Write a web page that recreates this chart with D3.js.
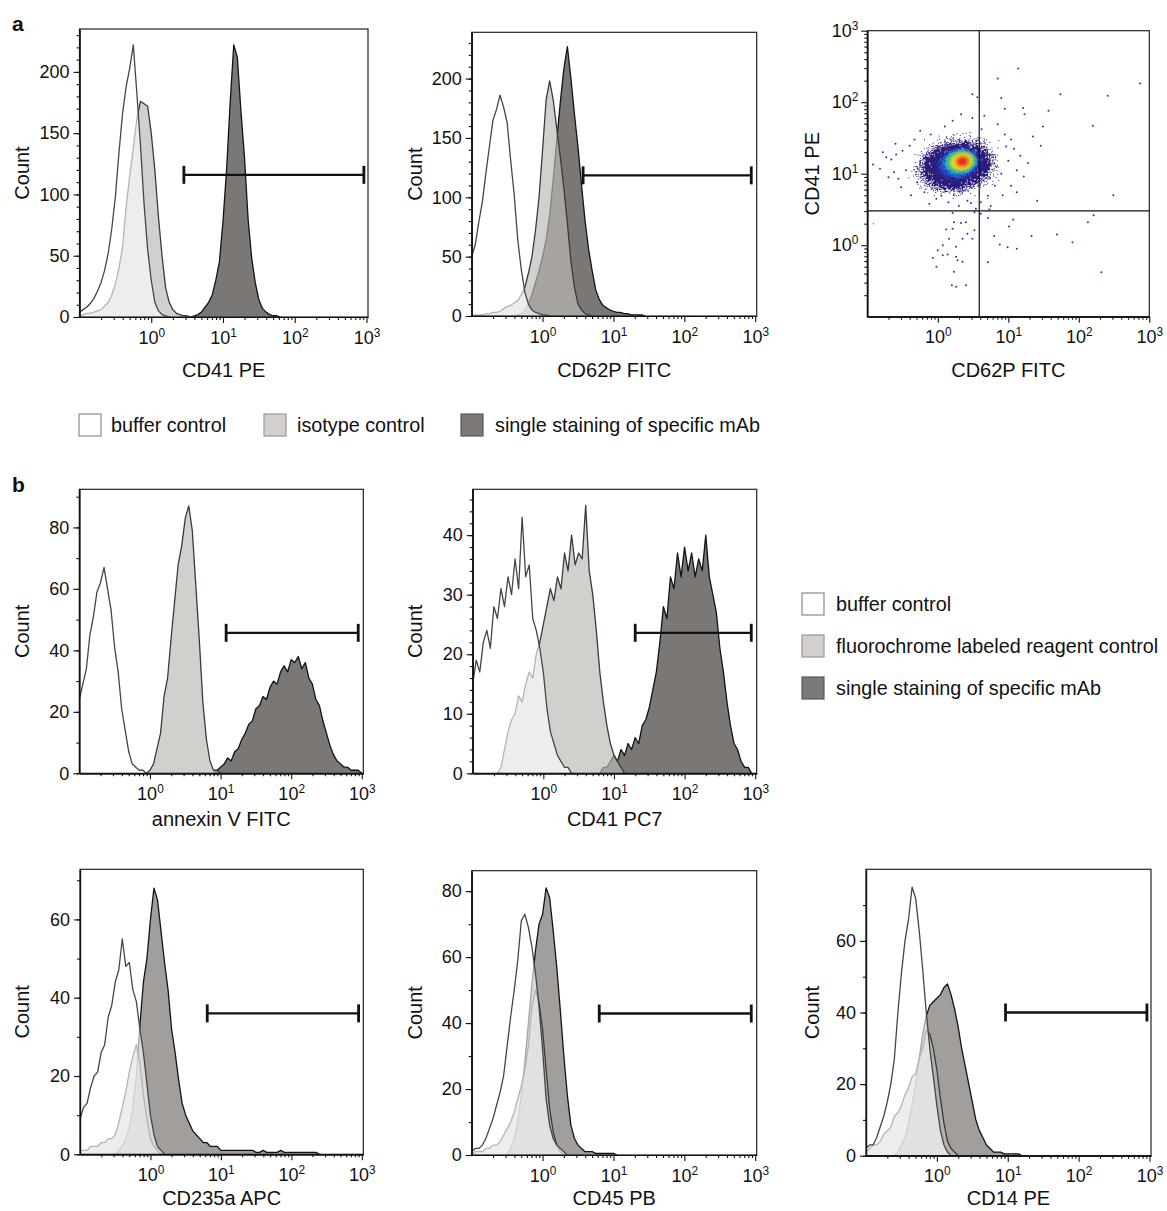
<!DOCTYPE html>
<html>
<head>
<meta charset="utf-8">
<script src="https://cdnjs.cloudflare.com/ajax/libs/d3/7.8.5/d3.min.js"></script>
<style>
  body { margin: 0; background: #fff; }
  svg { display: block; font-family: "Liberation Sans", Arial, sans-serif; }
</style>
</head>
<body>
<svg id="fig" width="1167" height="1211"></svg>
<script>
// histogram channels are 0.05 decades wide; `from` is log10 of the first channel
const BIN = 0.05;

// a: CD41 PE
const cd41peBuffer = {from: -1, counts: [4, 6, 8, 11, 15, 21, 28, 38, 52, 72, 98, 134, 166, 188, 203, 222, 182, 140, 92, 55, 30, 12, 5, 2, 1, 0]};
const cd41peIsotype = {from: -1, counts: [1, 2, 3, 3, 4, 5, 6, 9, 12, 18, 27, 40, 57, 90, 115, 138, 162, 176, 174, 172, 150, 120, 82, 50, 24, 12, 6, 3, 2, 1, 1, 0]};
const cd41peSpecific = {from: 0.55, counts: [0, 1, 2, 4, 8, 12, 18, 30, 45, 78, 120, 175, 222, 212, 168, 130, 80, 48, 28, 14, 7, 4, 2, 1, 1, 0]};
const cd41peGate = [2.85, 920, 116];

// a: CD62P FITC
const cd62pBuffer = {from: -1, counts: [50, 60, 79, 96, 120, 143, 165, 174, 186, 176, 163, 131, 102, 64, 39, 20, 10, 5, 3, 2, 1, 1, 0]};
const cd62pIsotype = {from: -1, counts: [0, 1, 1, 1, 2, 2, 3, 3, 4, 6, 8, 9, 11, 13, 18, 24, 36, 50, 72, 100, 140, 182, 198, 182, 158, 134, 108, 78, 46, 24, 10, 5, 2, 1, 0]};
const cd62pSpecific = {from: -0.4, counts: [0, 1, 2, 5, 10, 18, 28, 38, 50, 64, 85, 115, 148, 180, 208, 227, 200, 170, 142, 110, 80, 56, 38, 22, 14, 9, 7, 5, 4, 3, 3, 2, 2, 1, 1, 1, 1, 0]};
const cd62pGate = [3.73, 880, 118.5];

// a: CD62P FITC vs CD41 PE dot plot, density shells (log10 centre / half-widths in decades)
const cloudColors = ['#2b1c7d', '#2b46c6', '#23a5d8', '#4cc46a', '#ede12b', '#f59a22', '#e3271f'];
const cloudCentreX = [0.26, 0.30, 0.32, 0.33, 0.34, 0.35, 0.35];
const cloudCentreY = [1.11, 1.14, 1.16, 1.17, 1.17, 1.17, 1.17];
const cloudHalfX = [0.55, 0.30, 0.24, 0.20, 0.16, 0.12, 0.07];
const cloudHalfY = [0.34, 0.20, 0.17, 0.145, 0.12, 0.09, 0.055];
const dotsLog = [
  [1.14, 2.47], [0.85, 2.33], [0.49, 2.11], [0.56, 2.07], [0.9, 2.06], [2.87, 2.26], [2.41, 2.09],
  [1.74, 2.11], [1.21, 1.92], [1.57, 1.88], [1.23, 1.83], [0.95, 1.91], [2.2, 1.67], [1.49, 1.66],
  [1.35, 1.52], [1.46, 1.39], [1.22, 0.96], [1.41, 0.62], [2.49, 0.7], [1.12, 0.74], [1.04, 0.83],
  [2.21, 0.42], [2.13, 0.32], [1.07, 0.36], [0.71, 0.38], [1.01, 0.26], [1.33, 0.13], [1.69, 0.15],
  [1.91, 0.04], [0.8, 0.13], [0.88, 0.01], [0.99, -0.03], [1.12, -0.05], [0.71, -0.24], [2.32, -0.38],
  [0.23, 0.32], [0.33, 0.31], [0.4, 0.32], [0.12, 0.22], [0.21, 0.23], [0.16, 0.09], [0.07, 0.0],
  [0.0, -0.07], [-0.07, -0.18], [-0.02, -0.3], [0.07, -0.14], [0.14, -0.13], [0.26, -0.02], [0.35, 0.09],
  [0.42, 0.16], [0.49, 0.09], [0.52, 0.21], [0.26, -0.16], [0.35, -0.23], [0.23, -0.37], [0.28, -0.21],
  [0.2, -0.56], [0.26, -0.58], [0.4, -0.56], [0.52, 0.46], [0.54, 0.51], [0.47, 0.59], [0.61, 0.44],
  [0.73, 0.5], [0.21, 0.45], [-0.92, 1.13], [-0.82, 1.07], [-0.73, 1.23], [-0.66, 1.2], [-0.59, 1.27],
  [-0.56, 0.93], [-0.52, 0.81], [-0.4, 1.39], [-0.33, 1.48], [-0.29, 0.88], [-0.19, 0.74], [-0.02, 0.65],
  [0.05, 0.69], [0.21, 1.74], [0.33, 1.83], [0.49, 1.78], [0.66, 1.81], [0.85, 1.69], [1.04, 1.48],
  [1.08, 1.35], [1.17, 1.25], [0.9, 1.0], [0.81, 0.83], [0.71, 0.69], [0.61, 0.6], [-0.45, 1.05],
  [-0.62, 1.02], [-0.5, 1.32], [0.95, 1.55], [1.0, 1.18], [0.42, 0.62], [0.15, 0.6], [-0.1, 1.55],
  [-0.7, 0.95], [-0.78, 1.3], [-0.25, 1.6], [0.1, 1.66], [0.62, 1.62], [0.97, 1.38], [1.12, 1.05],
  [0.92, 0.7], [0.3, 0.55], [-0.12, 0.58], [-0.38, 0.7], [0.75, 0.55], [-0.6, 1.42], [1.28, 1.15]
];
const quadrantGate = [3.87, 3.03];

// b: annexin V FITC
const annexinBuffer = {from: -1, counts: [24, 29, 34, 45, 51, 59, 62, 67, 60, 53, 41, 33, 21, 14, 7, 3, 2, 1, 1, 0]};
const annexinIsotype = {from: -0.05, counts: [0, 1, 3, 8, 13, 25, 31, 44, 56, 68, 74, 83, 87, 79, 61, 43, 23, 11, 4, 1, 1, 0]};
const annexinSpecific = {from: 0.9, counts: [0, 1, 2, 3, 5, 4, 7, 8, 11, 13, 16, 17, 21, 22, 25, 24, 28, 30, 29, 33, 35, 33, 37, 36, 38, 34, 36, 31, 29, 24, 22, 17, 13, 9, 6, 4, 3, 2, 2, 1, 1, 1, 0]};
const annexinGate = [12, 890, 45.7];

// b: CD41 PC7
const cd41pc7Buffer = {from: -1, counts: [15, 19, 17, 22, 24, 21, 28, 26, 31, 28, 33, 30, 36, 31, 43, 33, 35, 26, 24, 21, 17, 11, 7, 5, 3, 2, 1, 1, 0]};
const cd41pc7Isotype = {from: -0.65, counts: [0, 1, 4, 7, 9, 10, 13, 12, 15, 17, 16, 20, 22, 25, 28, 31, 29, 33, 31, 37, 34, 40, 35, 37, 36, 45, 34, 30, 24, 17, 12, 8, 5, 3, 2, 1, 0]};
const cd41pc7Specific = {from: 0.8, counts: [0, 1, 1, 2, 3, 2, 4, 3, 5, 4, 6, 5, 8, 9, 11, 14, 17, 22, 28, 26, 33, 31, 37, 33, 38, 34, 37, 33, 36, 34, 40, 33, 30, 27, 21, 17, 12, 8, 5, 4, 2, 1, 1, 0]};
const cd41pc7Gate = [20, 880, 23.6];

// b: CD235a APC
const cd235aBuffer = {from: -1, counts: [9, 12, 13, 17, 20, 21, 26, 28, 35, 38, 44, 47, 55, 48, 49, 42, 39, 32, 26, 18, 10, 5, 2, 1, 0]};
const cd235aIsotype = {from: -1, counts: [1, 1, 1, 2, 2, 2, 3, 3, 4, 4, 5, 8, 12, 16, 21, 25, 28, 23, 15, 9, 4, 2, 1, 0]};
const cd235aSpecific = {from: -0.5, counts: [0, 1, 2, 4, 7, 12, 20, 33, 44, 50, 60, 68, 65, 57, 49, 42, 32, 26, 19, 13, 10, 8, 6, 5, 4, 3, 3, 2, 2, 2, 1, 1, 1, 1, 1, 1, 1, 1, 1, 1, 0.5, 0.5, 1, 0.5, 0.5, 0.5, 0.5, 1, 0.5, 0.5, 0.5, 0.5, 0.5, 0.5, 0.5, 0.5, 0.5, 0.5, 0]};
const cd235aGate = [6.4, 900, 36];

// b: CD45 PB
const cd45Buffer = {from: -1, counts: [1, 2, 2, 3, 5, 8, 11, 15, 19, 24, 33, 42, 50, 59, 71, 73, 69, 63, 55, 45, 32, 17, 9, 5, 3, 2, 1, 0]};
const cd45Isotype = {from: -1, counts: [0, 1, 1, 1, 2, 2, 3, 3, 4, 6, 8, 10, 13, 17, 21, 26, 33, 45, 50, 46, 38, 26, 14, 7, 3, 1, 0]};
const cd45Specific = {from: -0.5, counts: [0, 2, 5, 10, 18, 28, 40, 52, 62, 70, 73, 81, 78, 68, 57, 44, 30, 18, 9, 5, 3, 2, 1, 1, 1, 0.5, 0.5, 0.5, 0.5, 0.5, 0.5, 0]};
const cd45Gate = [6.3, 880, 42.9];

// b: CD14 PE
const cd14Buffer = {from: -1, counts: [2, 3, 3, 5, 8, 11, 15, 20, 27, 40, 51, 60, 66, 75, 72, 63, 52, 40, 30, 22, 14, 7, 3, 1, 0]};
const cd14Isotype = {from: -1, counts: [1, 2, 3, 3, 4, 6, 7, 8, 11, 12, 14, 17, 19, 22, 23, 27, 30, 35, 34, 30, 24, 16, 9, 4, 2, 1, 0]};
const cd14Specific = {from: -0.6, counts: [0, 1, 3, 5, 9, 14, 20, 27, 34, 39, 42, 43, 44, 45, 47, 48, 45, 41, 36, 30, 25, 20, 15, 10, 7, 5, 3, 2, 1, 1, 1, 0.5, 0.5, 0.5, 0.5, 0.5, 0]};
const cd14Gate = [9.3, 920, 40];

const decadeTicks = [1, 10, 100, 1000];
const legendA = ['buffer control', 'isotype control', 'single staining of specific mAb'];
const legendB = ['buffer control', 'fluorochrome labeled reagent control', 'single staining of specific mAb'];

// layout of every panel frame (pixels)
const histPanels = [
  {id: 'a1', left: 79.5, right: 368, top: 29, bottom: 317, yMax: 235, yStep: 50, yMinor: 10, countX: 22, labelY: 377,
   label: 'CD41 PE', curves: [cd41peBuffer, cd41peIsotype, cd41peSpecific], gate: cd41peGate, dark: true},
  {id: 'a2', left: 471.7, right: 756.7, top: 32.3, bottom: 316, yMax: 239, yStep: 50, yMinor: 10, countX: 415, labelY: 377,
   label: 'CD62P FITC', curves: [cd62pBuffer, cd62pIsotype, cd62pSpecific], gate: cd62pGate, dark: true},
  {id: 'b1', left: 79.3, right: 363.3, top: 489.3, bottom: 773.3, yMax: 92.4, yStep: 20, yMinor: 10, countX: 22, labelY: 826,
   label: 'annexin V FITC', curves: [annexinBuffer, annexinIsotype, annexinSpecific], gate: annexinGate, dark: true},
  {id: 'b2', left: 472.7, right: 756.7, top: 489.3, bottom: 773.3, yMax: 47.7, yStep: 10, yMinor: 2, countX: 415, labelY: 826,
   label: 'CD41 PC7', curves: [cd41pc7Buffer, cd41pc7Isotype, cd41pc7Specific], gate: cd41pc7Gate, dark: true},
  {id: 'b3', left: 80, right: 363.3, top: 869.3, bottom: 1154.3, yMax: 72.8, yStep: 20, yMinor: 10, countX: 22, labelY: 1205,
   label: 'CD235a APC', curves: [cd235aBuffer, cd235aIsotype, cd235aSpecific], gate: cd235aGate, dark: false},
  {id: 'b4', left: 471.7, right: 756.7, top: 870.7, bottom: 1155, yMax: 86.2, yStep: 20, yMinor: 10, countX: 415, labelY: 1205,
   label: 'CD45 PB', curves: [cd45Buffer, cd45Isotype, cd45Specific], gate: cd45Gate, dark: false},
  {id: 'b5', left: 866, right: 1151, top: 869.3, bottom: 1155.7, yMax: 80, yStep: 20, yMinor: 10, countX: 812, labelY: 1205,
   label: 'CD14 PE', curves: [cd14Buffer, cd14Isotype, cd14Specific], gate: cd14Gate, dark: false}
];

const svg = d3.select('#fig');
const defs = svg.append('defs');
const INK = '#111';

function minorLogTicks(lo, hi) {
  const out = [];
  for (let k = -1; k <= 2; k++) for (let m = 2; m <= 9; m++) {
    const v = m * Math.pow(10, k);
    if (v > lo && v < hi) out.push(v);
  }
  return out;
}

function styleAxis(g) {
  g.select('.domain').attr('stroke', INK).attr('stroke-width', 1.2);
  g.selectAll('.tick line').attr('stroke', INK).attr('stroke-width', 1.1);
  g.selectAll('.tick text').attr('fill', INK).attr('font-size', 18).attr('font-family', '"Liberation Sans", Arial, sans-serif');
}

function powerLabels(g) {
  g.selectAll('.tick text').each(function (d) {
    const t = d3.select(this).text('10');
    t.append('tspan').attr('dy', '-0.6em').attr('font-size', '0.66em').text(Math.round(Math.log10(d)));
  });
}

function addFrame(p) {
  svg.append('rect')
    .attr('x', p.left).attr('y', p.top)
    .attr('width', p.right - p.left).attr('height', p.bottom - p.top)
    .attr('fill', 'none').attr('stroke', '#222').attr('stroke-width', 1.2);
}

function addLogXAxis(x, p) {
  svg.append('g').attr('transform', `translate(0,${p.bottom})`)
    .call(d3.axisBottom(x).tickValues(minorLogTicks(0.1, 1050)).tickSize(3).tickSizeOuter(0).tickFormat(''))
    .call(styleAxis);
  svg.append('g').attr('transform', `translate(0,${p.bottom})`)
    .call(d3.axisBottom(x).tickValues(decadeTicks).tickSize(6).tickSizeOuter(0).tickPadding(8))
    .call(styleAxis).call(powerLabels);
}

function addText(txt, x, y, opts = {}) {
  const t = svg.append('text').attr('x', x).attr('y', y)
    .attr('text-anchor', opts.anchor || 'middle')
    .attr('font-size', opts.size || 20)
    .attr('fill', INK)
    .text(txt);
  if (opts.rotate) t.attr('transform', `rotate(-90,${x},${y})`).attr('dy', '0.35em');
  if (opts.bold) t.attr('font-weight', 'bold');
  return t;
}

function drawHistogram(p) {
  const x = d3.scaleLog().domain([0.1, 1050]).range([p.left, p.right]);
  const y = d3.scaleLinear().domain([0, p.yMax]).range([p.bottom, p.top]);

  defs.append('clipPath').attr('id', 'clip-' + p.id)
    .append('rect').attr('x', p.left).attr('y', p.top)
    .attr('width', p.right - p.left).attr('height', p.bottom - p.top);
  const plot = svg.append('g').attr('clip-path', `url(#clip-${p.id})`);

  // drawn bottom-up: specific, isotype (translucent), buffer (translucent white)
  const layers = [
    {curve: p.curves[2], fill: p.dark ? '#7b7774' : '#a29e9b', alpha: 1, stroke: '#121212'},
    {curve: p.curves[1], fill: '#bdb9b6', alpha: 0.68, stroke: '#3a3a3a'},
    {curve: p.curves[0], fill: '#ffffff', alpha: 0.62, stroke: '#454545'}
  ];
  const area = d3.area().x(d => x(d[0])).y0(y(0)).y1(d => y(d[1]));
  const line = d3.line().x(d => x(d[0])).y(d => y(d[1]));
  layers.forEach(l => {
    const pts = l.curve.counts.map((v, k) => [Math.pow(10, l.curve.from + k * BIN), v]);
    plot.append('path').datum(pts).attr('d', area)
      .attr('fill', l.fill).attr('fill-opacity', l.alpha);
    plot.append('path').datum(pts).attr('d', line)
      .attr('fill', 'none').attr('stroke', l.stroke).attr('stroke-width', 1.3)
      .attr('stroke-linejoin', 'round');
  });

  addFrame(p);
  svg.append('g').attr('transform', `translate(${p.left},0)`)
    .call(d3.axisLeft(y).tickValues(d3.range(0, p.yMax, p.yMinor)).tickSize(3).tickSizeOuter(0).tickFormat(''))
    .call(styleAxis);
  svg.append('g').attr('transform', `translate(${p.left},0)`)
    .call(d3.axisLeft(y).tickValues(d3.range(0, p.yMax, p.yStep)).tickSize(6).tickSizeOuter(0).tickPadding(4))
    .call(styleAxis);
  addLogXAxis(x, p);

  // marker gate
  const [lo, hi, level] = p.gate;
  const gy = y(level);
  svg.append('line').attr('x1', x(lo)).attr('x2', x(hi)).attr('y1', gy).attr('y2', gy)
    .attr('stroke', INK).attr('stroke-width', 2.3);
  [lo, hi].forEach(v => {
    svg.append('line').attr('x1', x(v)).attr('x2', x(v)).attr('y1', gy - 9).attr('y2', gy + 9)
      .attr('stroke', INK).attr('stroke-width', 2.8);
  });

  addText(p.label, (p.left + p.right) / 2, p.labelY);
  addText('Count', p.countX, (p.top + p.bottom) / 2, {rotate: true});
}

// stippled density edge: blurred shape alpha + noise, thresholded into dots
function speckleFilter(id, colour, blur, seed) {
  const f = defs.append('filter').attr('id', id)
    .attr('x', '-80%').attr('y', '-80%').attr('width', '260%').attr('height', '260%')
    .attr('color-interpolation-filters', 'sRGB');
  f.append('feGaussianBlur').attr('in', 'SourceAlpha').attr('stdDeviation', blur).attr('result', 'soft');
  f.append('feTurbulence').attr('type', 'fractalNoise').attr('baseFrequency', 0.85)
    .attr('numOctaves', 2).attr('seed', seed).attr('result', 'noise');
  f.append('feColorMatrix').attr('in', 'noise').attr('type', 'matrix')
    .attr('values', '0 0 0 0 0  0 0 0 0 0  0 0 0 0 0  1 0 0 0 0').attr('result', 'noiseA');
  f.append('feComposite').attr('in', 'soft').attr('in2', 'noiseA').attr('operator', 'arithmetic')
    .attr('k1', 0).attr('k2', 0.8).attr('k3', 1).attr('k4', -0.78).attr('result', 'mix');
  f.append('feComponentTransfer').attr('in', 'mix').attr('result', 'mask')
    .append('feFuncA').attr('type', 'discrete').attr('tableValues', '0 1 1 1 1 1 1 1 1 1');
  f.append('feFlood').attr('flood-color', colour).attr('result', 'ink');
  f.append('feComposite').attr('in', 'ink').attr('in2', 'mask').attr('operator', 'in');
}

function drawDotPlot() {
  const p = {id: 'a3', left: 867.3, right: 1149.3, top: 30.7, bottom: 316.7};
  const x = d3.scaleLog().domain([0.1, 1000]).range([p.left, p.right]);
  const y = d3.scaleLog().domain([0.1, 1000]).range([p.bottom, p.top]);

  defs.append('clipPath').attr('id', 'clip-a3')
    .append('rect').attr('x', p.left).attr('y', p.top)
    .attr('width', p.right - p.left).attr('height', p.bottom - p.top);
  const plot = svg.append('g').attr('clip-path', 'url(#clip-a3)');

  speckleFilter('speckle0', cloudColors[0], 10, 5);
  speckleFilter('speckle1', cloudColors[1], 5, 11);
  speckleFilter('speckle2', cloudColors[2], 3.5, 17);
  defs.append('filter').attr('id', 'softcore').attr('x', '-50%').attr('y', '-50%')
    .attr('width', '200%').attr('height', '200%')
    .append('feGaussianBlur').attr('stdDeviation', 1.8);

  plot.selectAll('circle.dot').data(dotsLog).join('circle').attr('class', 'dot')
    .attr('cx', d => x(Math.pow(10, d[0]))).attr('cy', d => y(Math.pow(10, d[1])))
    .attr('r', 1).attr('fill', '#3d2f9e');

  cloudColors.forEach((c, i) => {
    const cx = x(Math.pow(10, cloudCentreX[i]));
    const cy = y(Math.pow(10, cloudCentreY[i]));
    const rx = x(Math.pow(10, cloudCentreX[i] + cloudHalfX[i])) - cx;
    const ry = cy - y(Math.pow(10, cloudCentreY[i] + cloudHalfY[i]));
    plot.append('ellipse')
      .attr('cx', cx).attr('cy', cy).attr('rx', rx).attr('ry', ry)
      .attr('transform', `rotate(-10,${cx},${cy})`)
      .attr('fill', c)
      .attr('filter', i < 3 ? `url(#speckle${i})` : 'url(#softcore)');
  });

  const qx = x(quadrantGate[0]), qy = y(quadrantGate[1]);
  plot.append('line').attr('x1', qx).attr('x2', qx).attr('y1', p.top).attr('y2', p.bottom)
    .attr('stroke', INK).attr('stroke-width', 1.2);
  plot.append('line').attr('x1', p.left).attr('x2', p.right).attr('y1', qy).attr('y2', qy)
    .attr('stroke', INK).attr('stroke-width', 1.2);

  addFrame(p);
  svg.append('g').attr('transform', `translate(${p.left},0)`)
    .call(d3.axisLeft(y).tickValues(minorLogTicks(0.1, 1000)).tickSize(3).tickSizeOuter(0).tickFormat(''))
    .call(styleAxis);
  svg.append('g').attr('transform', `translate(${p.left},0)`)
    .call(d3.axisLeft(y).tickValues(decadeTicks).tickSize(6).tickSizeOuter(0).tickPadding(3))
    .call(styleAxis).call(powerLabels);
  svg.append('g').attr('transform', `translate(0,${p.bottom})`)
    .call(d3.axisBottom(x).tickValues(minorLogTicks(0.1, 1000)).tickSize(3).tickSizeOuter(0).tickFormat(''))
    .call(styleAxis);
  svg.append('g').attr('transform', `translate(0,${p.bottom})`)
    .call(d3.axisBottom(x).tickValues(decadeTicks).tickSize(6).tickSizeOuter(0).tickPadding(8))
    .call(styleAxis).call(powerLabels);

  addText('CD62P FITC', (p.left + p.right) / 2, 377);
  addText('CD41 PE', 812, (p.top + p.bottom) / 2, {rotate: true});
}

function drawLegend(items, xs, ys, textX) {
  const fills = [['#ffffff', '#8a8a8a'], ['#d3d0cd', '#9a9795'], ['#7d7977', '#5a5755']];
  items.forEach((name, i) => {
    svg.append('rect').attr('x', xs[i]).attr('y', ys[i]).attr('width', 22).attr('height', 22)
      .attr('fill', fills[i][0]).attr('stroke', fills[i][1]).attr('stroke-width', 1.2);
    addText(name, textX[i], ys[i] + 18, {anchor: 'start', size: 19.8});
  });
}

histPanels.forEach(drawHistogram);
drawDotPlot();

drawLegend(legendA, [79, 264, 461], [414, 414, 414], [111, 297, 495]);
drawLegend(legendB, [802, 802, 802], [593, 635, 677], [836, 836, 836]);

addText('a', 12, 31, {anchor: 'start', size: 21, bold: true});
addText('b', 12, 492, {anchor: 'start', size: 21, bold: true});
</script>
</body>
</html>
